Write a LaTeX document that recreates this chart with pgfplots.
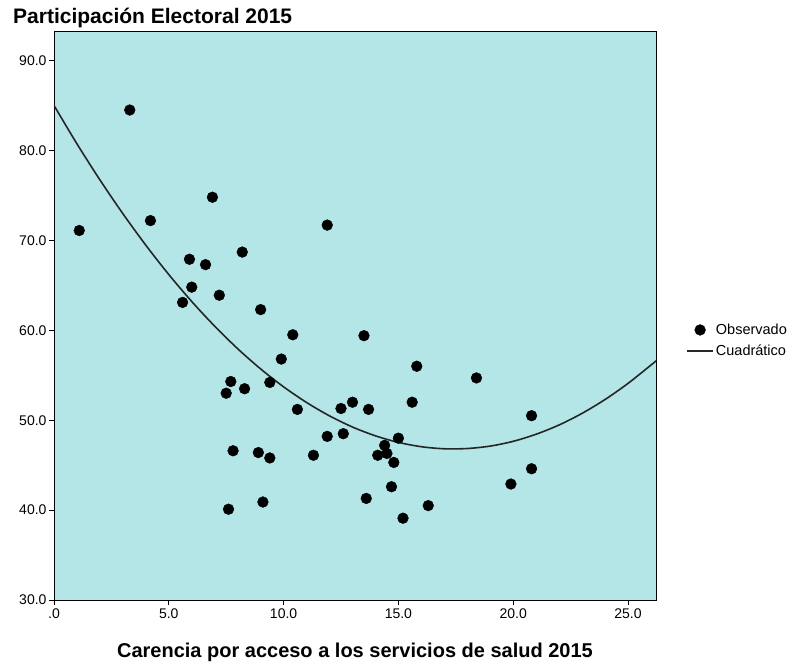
\documentclass[border=0pt]{standalone}
\usepackage{fontspec}
\setmainfont{Liberation Sans}
\usepackage{pgfplots}
\pgfplotsset{compat=1.18}
\definecolor{spssbg}{RGB}{180,230,231}
\pgfplotsset{
    legline/.style={legend image code/.code={\draw[##1] (0pt,0pt) -- (26pt,0pt);}},
    legmark/.style={legend image code/.code={\draw[##1] plot coordinates {(13pt,0pt)};}},
}

\pgfplotstableread{
x y
1.1 71.1
3.3 84.5
4.2 72.2
6.9 74.8
5.9 67.9
6.6 67.3
8.2 68.7
6.0 64.8
7.2 63.9
5.6 63.1
9.0 62.3
11.9 71.7
10.4 59.5
13.5 59.4
9.9 56.8
15.8 56.0
18.4 54.7
7.7 54.3
9.4 54.2
7.5 53.0
8.3 53.5
15.6 52.0
13.0 52.0
12.5 51.3
13.7 51.2
10.6 51.2
20.8 50.5
12.6 48.5
11.9 48.2
15.0 48.0
14.4 47.2
7.8 46.6
8.9 46.4
11.3 46.1
14.1 46.1
14.5 46.3
9.4 45.8
14.8 45.3
20.8 44.6
19.9 42.9
14.7 42.6
13.6 41.3
9.1 40.9
7.6 40.1
16.3 40.5
15.2 39.1
}\observado

\pgfplotstableread{
x y
0 85.01
1 80.74
2 76.73
3 72.97
4 69.46
5 66.20
6 63.20
7 60.45
8 57.95
9 55.70
10 53.71
11 51.97
12 50.48
13 49.24
14 48.26
15 47.53
16 47.05
17 46.82
18 46.85
19 47.12
20 47.65
21 48.44
22 49.47
23 50.76
24 52.30
25 54.09
26 56.13
26.25 56.65
}\cuadratico

\begin{document}
\begin{tikzpicture}
\path[use as bounding box] (-54pt,-64pt) rectangle (740pt,600pt);
\begin{axis}[
    at={(0pt,0pt)}, anchor=south west,
    scale only axis,
    width=602pt, height=569pt,
    xmin=0, xmax=26.22,
    ymin=30, ymax=93.29,
    axis background/.style={fill=spssbg},
    axis line style={line width=0.8pt},
    tick align=outside,
    xtick pos=left, ytick pos=left,
    major tick length=5pt,
    tick style={black, line width=0.8pt},
    xtick={0,5,10,15,20,25},
    xticklabels={.0,5.0,10.0,15.0,20.0,25.0},
    ytick={30,40,50,60,70,80,90},
    yticklabels={30.0,40.0,50.0,60.0,70.0,80.0,90.0},
    ticklabel style={font=\fontsize{14}{16}\selectfont},
    yticklabel style={xshift=1pt},
    /pgf/number format/assume math mode=true,
    clip=true,
    legend style={at={(1.05,0.489)}, anchor=north west, draw=none, fill=none,
        font=\fontsize{14.5}{16}\selectfont, row sep=5pt, inner sep=0pt},
    legend cell align=left,
]
\addplot[only marks, mark=*, mark size=5.4pt, black, legmark]
    table[x=x, y=y] {\observado};
\addlegendentry{Observado}
\addplot[no marks, smooth, line width=1.6pt, black!85, legline]
    table[x=x, y=y] {\cuadratico};
\addlegendentry{Cuadrático}
\end{axis}
\node[anchor=base west, font=\bfseries\fontsize{21}{23}\selectfont, inner sep=0pt]
    at (-41pt,576pt) {Participación Electoral 2015};
\node[anchor=base, font=\bfseries\fontsize{20}{22}\selectfont, inner sep=0pt]
    at (301pt,-57pt) {Carencia por acceso a los servicios de salud 2015};
\end{tikzpicture}
\end{document}
